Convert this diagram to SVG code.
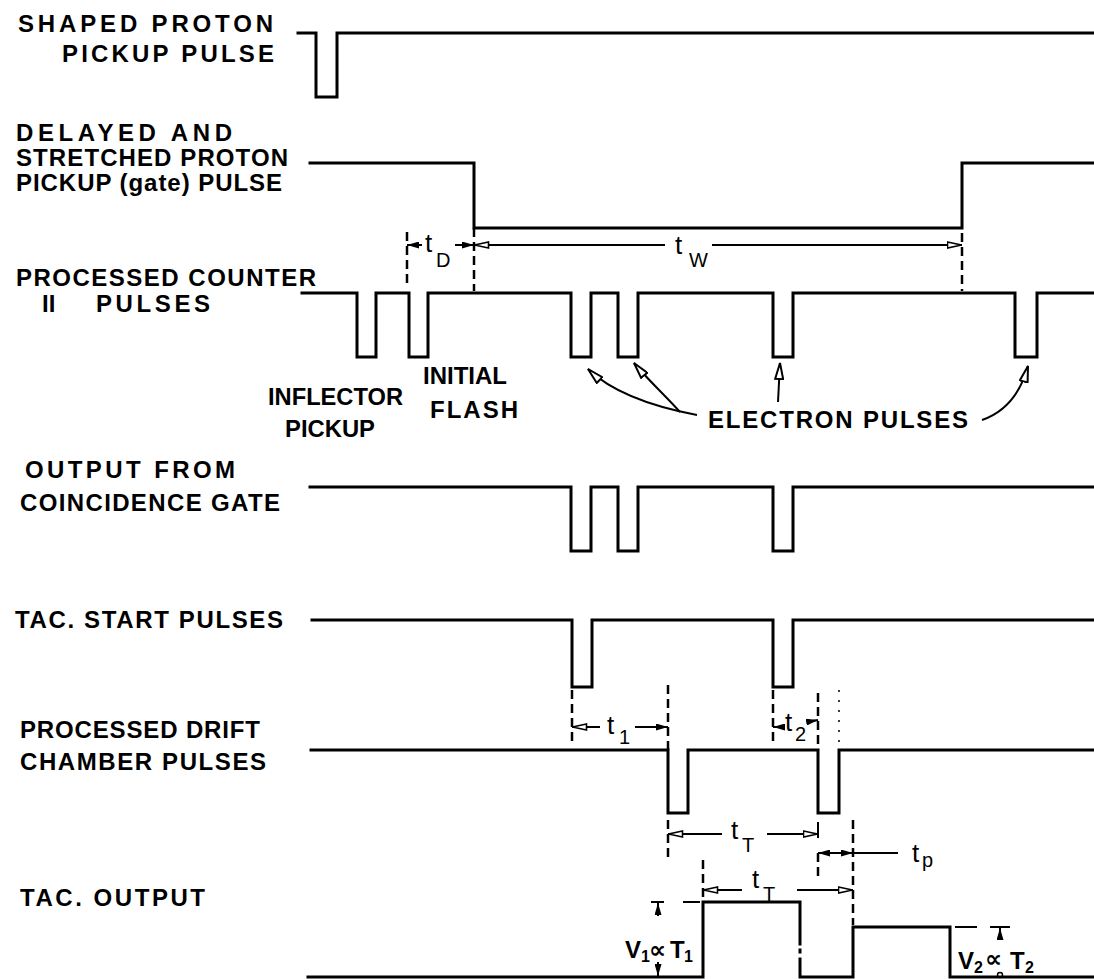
<svg xmlns="http://www.w3.org/2000/svg" width="1094" height="979" viewBox="0 0 1094 979">
<style>
.w{fill:none;stroke:#000;stroke-width:3;stroke-linejoin:miter;stroke-linecap:square}
.d{fill:none;stroke:#000;stroke-width:2.5;stroke-dasharray:9 5}
.dot{fill:none;stroke:#000;stroke-width:1.5;stroke-dasharray:2 8}
.a{fill:none;stroke:#000;stroke-width:2}
.lbl{font-family:"Liberation Sans",Arial,sans-serif;font-size:24px;font-weight:bold;fill:#000}
.t{font-family:"Liberation Sans",Arial,sans-serif;font-size:26px;fill:#000}
.s{font-family:"Liberation Sans",Arial,sans-serif;font-size:20px;fill:#000}
.v{font-family:"Liberation Sans",Arial,sans-serif;font-size:24px;font-weight:bold;fill:#000}
.p{font-family:"DejaVu Sans",sans-serif;font-size:24px;font-weight:bold;fill:#000}
.vs{font-family:"Liberation Sans",Arial,sans-serif;font-size:16px;font-weight:bold;fill:#000}
</style>
<defs>
<marker id="hol" viewBox="0 0 16 8" refX="15.5" refY="4" markerWidth="16" markerHeight="8" markerUnits="userSpaceOnUse" orient="auto-start-reverse">
<path d="M1,1 L15,4 L1,7 z" fill="#fff" stroke="#000" stroke-width="1.6"/>
</marker>
<marker id="sol" viewBox="0 0 12 7" refX="12" refY="3.5" markerWidth="12" markerHeight="7" markerUnits="userSpaceOnUse" orient="auto-start-reverse">
<path d="M0,0 L12,3.5 L0,7 z" fill="#000"/>
</marker>
<marker id="big" viewBox="0 0 18 10" refX="17" refY="5" markerWidth="18" markerHeight="10" markerUnits="userSpaceOnUse" orient="auto">
<path d="M1,1 L17,5 L1,9 z" fill="#fff" stroke="#000" stroke-width="2"/>
</marker>
</defs>

<g id="row1-shaped-proton-pickup">
<text class="lbl" x="18" y="32" textLength="255" lengthAdjust="spacing">SHAPED PROTON</text>
<text class="lbl" x="62" y="62" textLength="212" lengthAdjust="spacing">PICKUP PULSE</text>
<path class="w" d="M298,33 H316 V97 H337 V33 H1094"/>
</g>

<g id="row2-gate-pulse">
<text class="lbl" x="16" y="141" textLength="216" lengthAdjust="spacing">DELAYED AND</text>
<text class="lbl" x="16" y="166" textLength="272" lengthAdjust="spacing">STRETCHED PROTON</text>
<text class="lbl" x="16" y="191" textLength="266" lengthAdjust="spacing">PICKUP (gate) PULSE</text>
<path class="w" d="M310,163 H474 V228 H962 V163 H1094"/>
</g>

<g id="row3-counter-pulses">
<text class="lbl" x="16" y="286" textLength="300" lengthAdjust="spacing">PROCESSED COUNTER</text>
<text class="lbl" x="42" y="312">II</text>
<text class="lbl" x="96" y="312" textLength="114" lengthAdjust="spacing">PULSES</text>
<path class="w" d="M302,293 H357 V357 H376 V293 H409 V357 H428 V293 H571 V357 H591 V293 H618 V357 H638 V293 H773 V357 H793 V293 H1015 V357 H1037 V293 H1094"/>
<text class="lbl" x="268" y="405" textLength="135" lengthAdjust="spacingAndGlyphs">INFLECTOR</text>
<text class="lbl" x="285" y="437" textLength="90" lengthAdjust="spacingAndGlyphs">PICKUP</text>
<text class="lbl" x="423" y="384" textLength="84" lengthAdjust="spacingAndGlyphs">INITIAL</text>
<text class="lbl" x="430" y="418" textLength="88" lengthAdjust="spacing">FLASH</text>
<text class="lbl" x="708" y="428" textLength="260" lengthAdjust="spacing">ELECTRON PULSES</text>
</g>

<g id="row4-coincidence-gate">
<text class="lbl" x="25" y="478" textLength="210" lengthAdjust="spacing">OUTPUT FROM</text>
<text class="lbl" x="20" y="511" textLength="260" lengthAdjust="spacing">COINCIDENCE GATE</text>
<path class="w" d="M310,487 H571 V551 H591 V487 H618 V551 H638 V487 H773 V551 H793 V487 H1094"/>
</g>

<g id="row5-tac-start">
<text class="lbl" x="15" y="628" textLength="268" lengthAdjust="spacing">TAC. START PULSES</text>
<path class="w" d="M312,620 H572 V687 H592 V620 H773 V687 H793 V620 H1094"/>
</g>

<g id="row6-drift-chamber">
<text class="lbl" x="20" y="738" textLength="240" lengthAdjust="spacing">PROCESSED DRIFT</text>
<text class="lbl" x="20" y="770" textLength="246" lengthAdjust="spacing">CHAMBER PULSES</text>
<path class="w" d="M311,750 H668 V813 H688 V750 H818 V813 H839 V750 H1094"/>
</g>

<g id="row7-tac-output">
<text class="lbl" x="20" y="906" textLength="185" lengthAdjust="spacing">TAC. OUTPUT</text>
<path class="w" d="M308,977 H703 V902 H800 V944"/>
<path class="w" d="M800,950 V952"/>
<path class="w" d="M800,959 V977 H853 V927 H950 V977 H1094"/>
</g>

<g id="connectors">
<path class="d" d="M407,232 V285"/>
<path class="d" d="M474,228 V291"/>
<path class="d" d="M962,233 V291"/>
<path class="a" d="M407,245 H422" marker-start="url(#sol)"/>
<path class="a" d="M455,245 H474" marker-end="url(#sol)"/>
<path class="a" d="M474,245 H665" marker-start="url(#hol)"/>
<path class="a" d="M712,245 H962" marker-end="url(#hol)"/>
<path class="a" d="M697,415 C660,408 615,395 588,369" marker-end="url(#big)"/>
<path class="a" d="M680,412 C665,395 648,380 634,363" marker-end="url(#big)"/>
<path class="a" d="M778,402 L780,363" marker-end="url(#big)"/>
<path class="a" d="M982,420 C1005,412 1020,395 1028,366" marker-end="url(#big)"/>
<path class="d" d="M572,690 V745"/>
<path class="d" d="M668,685 V750"/>
<path class="d" d="M773,690 V745"/>
<path class="d" d="M818,693 V750"/>
<path class="dot" d="M839,690 V745"/>
<path class="a" d="M572,727 H600" marker-start="url(#hol)"/>
<path class="a" d="M635,727 H668" marker-end="url(#sol)"/>
<path class="a" d="M773,727 H783" marker-start="url(#sol)"/>
<path class="a" d="M807,722 L818,720" marker-end="url(#sol)"/>
<path class="d" d="M668,820 V860"/>
<path class="a" d="M818,822 V838"/>
<path class="d" d="M818,853 V876"/>
<path class="d" d="M853,820 V925"/>
<path class="a" d="M668,834 H722" marker-start="url(#hol)"/>
<path class="a" d="M767,834 H818" marker-end="url(#hol)"/>
<path class="a" d="M818,853 H853" marker-start="url(#sol)" marker-end="url(#sol)"/>
<path class="a" d="M853,853 H898"/>
<path class="d" d="M703,860 V900"/>
<path class="a" d="M703,890 H742" marker-start="url(#hol)"/>
<path class="a" d="M797,890 H853" marker-end="url(#hol)"/>
<path class="a" d="M683,902 H700"/>
<path class="a" d="M651,902 H664"/>
<path class="a" d="M658,916 V903" marker-end="url(#sol)"/>
<path class="a" d="M658,962 V976" marker-end="url(#sol)"/>
<path class="a" d="M955,927 H977"/>
<path class="a" d="M990,927 H1010"/>
<path class="a" d="M1000,940 V928" marker-end="url(#sol)"/>
<circle cx="1000" cy="975" r="2.5" fill="none" stroke="#000" stroke-width="1.5"/>
</g>

<g id="dimension-labels">
<text class="t" x="425" y="252">t</text><text class="s" x="436" y="267">D</text>
<text class="t" x="675" y="254">t</text><text class="s" x="689" y="267">W</text>
<text class="t" x="607" y="734">t</text><text class="s" x="619" y="744">1</text>
<text class="t" x="785" y="731">t</text><text class="s" x="795" y="741">2</text>
<text class="t" x="731" y="839">t</text><text class="s" x="742" y="852">T</text>
<text class="t" x="912" y="862">t</text><text class="s" x="922" y="867">p</text>
<text class="t" x="752" y="888">t</text><text class="s" x="763" y="901">T</text>
<text class="v" x="625" y="958">V</text><text class="vs" x="641" y="962">1</text><text class="p" x="649" y="958">∝</text><text class="v" x="670" y="958">T</text><text class="vs" x="684" y="962">1</text>
<text class="v" x="958" y="969">V</text><text class="vs" x="974" y="973">2</text><text class="p" x="985" y="967">∝</text><text class="v" x="1010" y="969">T</text><text class="vs" x="1025" y="973">2</text>
</g>
</svg>
